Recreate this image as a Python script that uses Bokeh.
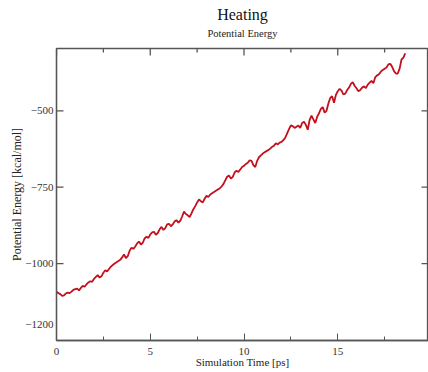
import math
from bokeh.plotting import figure
from bokeh.models import LinearAxis, FixedTicker, Range1d, Title, ColumnDataSource
from bokeh.embed import file_html
from bokeh.resources import INLINE

# ---- data, one value every 0.1 ps ----
potential_energy = [
    -1092, -1097, -1100, -1106, -1104, -1098, -1095, -1097, -1092, -1086,
    -1084, -1082, -1088, -1080, -1073, -1076, -1068, -1062, -1058, -1060,
    -1050, -1044, -1038, -1046, -1042, -1030, -1022, -1026, -1018, -1010,
    -1005, -1000, -996, -992, -988, -980, -970, -982, -976, -958,
    -948, -952, -944, -934, -928, -938, -932, -918, -912, -916,
    -905, -898, -896, -906, -900, -888, -880, -890, -884, -872,
    -870, -878, -872, -862, -858, -866, -860, -846, -830, -838,
    -842, -848, -836, -822, -812, -800, -790, -796, -800, -788,
    -778, -782, -774, -770, -766, -762, -758, -754, -748, -740,
    -728, -716, -712, -722, -716, -702, -696, -700, -692, -684,
    -680, -674, -670, -662, -664, -678, -684, -664, -652, -646,
    -640, -636, -632, -628, -624, -618, -614, -606, -610, -604,
    -602, -596, -588, -574, -560, -548, -550, -556, -552, -548,
    -556, -540, -536, -546, -562, -530, -516, -528, -540, -520,
    -508, -494, -488, -506, -500, -476, -458, -452, -474, -448,
    -436, -428, -434, -446, -444, -432, -424, -412, -406, -418,
    -426, -436, -432, -424, -420, -426, -414, -408, -402, -410,
    -390, -384, -380, -372, -366, -362, -358, -348, -346, -356,
    -370, -378, -378, -362, -332, -326, -312,
]
time_ps = [round(0.1 * i, 1) for i in range(len(potential_energy))]

x_ticks = [0, 5, 10, 15, 20]
x_minor_ticks = [2.5, 7.5, 12.5, 17.5]
y_ticks = [-500, -750, -1000, -1200]
y_marked_ticks = [-500, -750, -1000]

FONT = "Liberation Serif"
AXIS_COLOR = "#555555"

x_rng = Range1d(0, 19.84)
y_rng = Range1d(-1252, -296)

p = figure(width=428, height=372, output_backend="svg", toolbar_location=None,
           x_range=x_rng, y_range=y_rng,
           x_axis_type=None, y_axis_type=None,
           min_border_left=56, min_border_right=0, min_border_top=48,
           min_border_bottom=32)
p.outline_line_color = AXIS_COLOR
p.outline_line_width = 1.3
p.background_fill_color = "white"
p.border_fill_color = "white"
p.xgrid.visible = False
p.ygrid.visible = False

src = ColumnDataSource(dict(x=time_ps, y=potential_energy))
p.line("x", "y", source=src, line_color="#c4101c", line_width=1.8)

def style(ax, label_size):
    ax.axis_line_color = AXIS_COLOR
    ax.axis_line_width = 1.3
    ax.major_tick_line_color = AXIS_COLOR
    ax.minor_tick_line_color = AXIS_COLOR
    ax.major_tick_in = 7
    ax.major_tick_out = 0
    ax.minor_tick_in = 4
    ax.minor_tick_out = 0
    ax.major_label_text_font = FONT
    ax.major_label_text_font_size = "11px"
    ax.major_label_text_color = "#333333"
    ax.axis_label_text_font = FONT
    ax.axis_label_text_font_size = label_size
    ax.axis_label_text_font_style = "normal"
    ax.axis_label_text_color = "#222222"

bottom = LinearAxis(ticker=FixedTicker(ticks=x_ticks, minor_ticks=x_minor_ticks),
                    axis_label="Simulation Time [ps]")
style(bottom, "11px")
bottom.major_label_standoff = 7
bottom.axis_label_standoff = -2
p.add_layout(bottom, "below")

left = LinearAxis(ticker=FixedTicker(ticks=y_ticks, minor_ticks=[]),
                  axis_label="Potential Energy [kcal/mol]")
style(left, "12px")
left.major_tick_line_color = None   # tick marks drawn below (none at -1200)
left.major_label_standoff = 3
left.axis_label_standoff = -2
p.add_layout(left, "left")

# inward tick marks on the frame edges (markers centred on the edge, half clipped)
top_src = ColumnDataSource(dict(x=x_ticks, y=[y_rng.end] * len(x_ticks)))
p.scatter("x", "y", source=top_src, marker="dash", size=14, angle=math.pi / 2,
          line_color=AXIS_COLOR, line_width=1.3)
top_minor = ColumnDataSource(dict(x=x_minor_ticks, y=[y_rng.end] * len(x_minor_ticks)))
p.scatter("x", "y", source=top_minor, marker="dash", size=8, angle=math.pi / 2,
          line_color=AXIS_COLOR, line_width=1.3)
right_src = ColumnDataSource(dict(x=[x_rng.end] * len(y_marked_ticks), y=y_marked_ticks))
p.scatter("x", "y", source=right_src, marker="dash", size=14,
          line_color=AXIS_COLOR, line_width=1.3)
left_src = ColumnDataSource(dict(x=[x_rng.start] * len(y_marked_ticks), y=y_marked_ticks))
p.scatter("x", "y", source=left_src, marker="dash", size=14,
          line_color=AXIS_COLOR, line_width=1.3)

sub = Title(text="Potential Energy", align="center", vertical_align="top",
            text_font=FONT, text_font_size="10.5px", text_font_style="normal",
            text_color="#222222", standoff=16)
p.add_layout(sub, "above")
main = Title(text="Heating", align="center", vertical_align="bottom",
             text_font=FONT, text_font_size="16px", text_font_style="normal",
             text_color="#111111", standoff=-7)
p.add_layout(main, "above")

open("out.html", "w").write(file_html(p, INLINE))
